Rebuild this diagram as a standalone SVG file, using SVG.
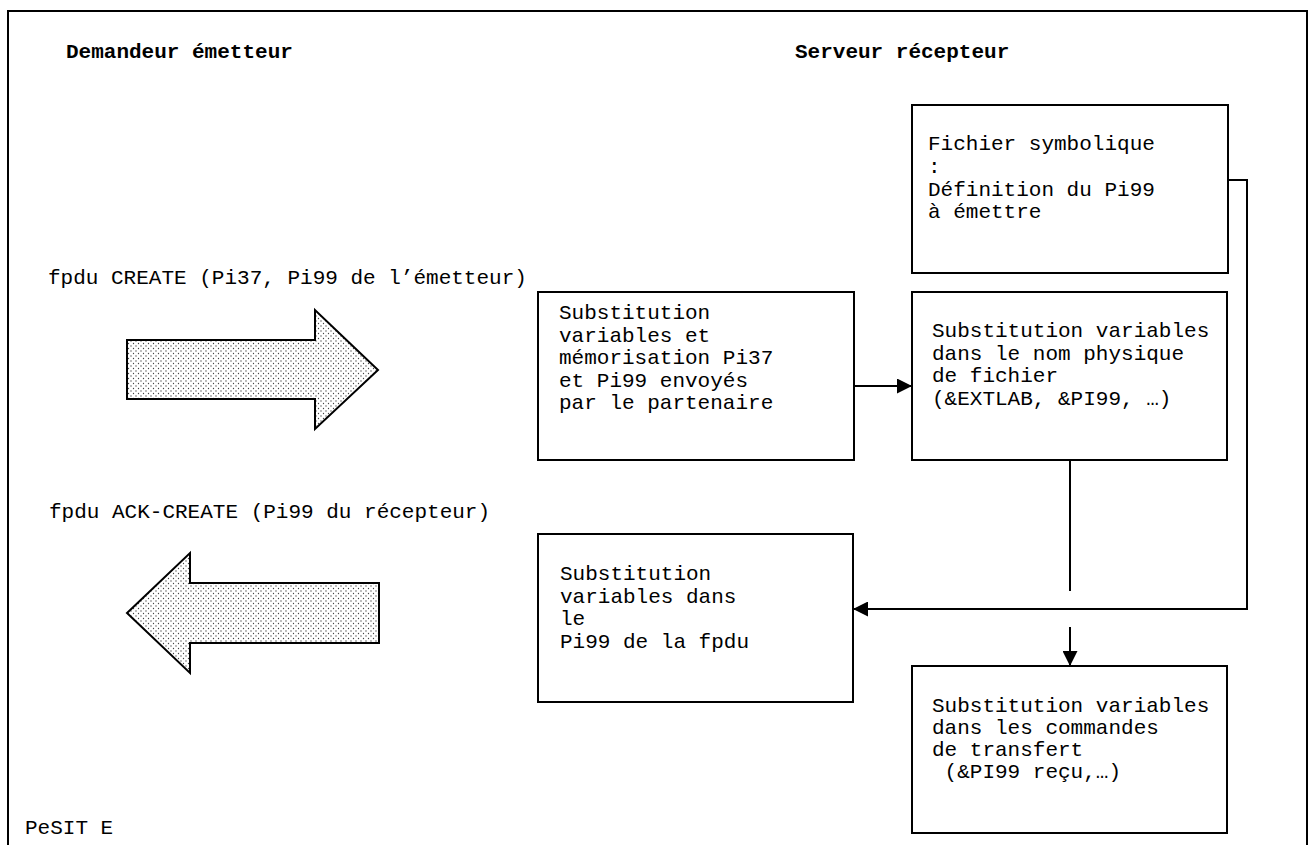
<svg xmlns="http://www.w3.org/2000/svg" width="1315" height="845" viewBox="0 0 1315 845">
<style>
.t{font-family:"Liberation Mono","Courier New",monospace;font-size:21px;fill:#000}
.b{font-weight:bold}
.box{fill:#fff;stroke:#000;stroke-width:2}
.ln{fill:none;stroke:#000;stroke-width:2}
.big{fill:url(#dots);stroke:#000;stroke-width:2;stroke-linejoin:miter}
</style>
<defs>
<pattern id="dots" width="5" height="5" patternUnits="userSpaceOnUse">
<rect width="5" height="5" fill="#fff"/>
<circle cx="1" cy="1" r="0.65" fill="#444"/>
<circle cx="3.5" cy="3.5" r="0.65" fill="#444"/>
</pattern>
<marker id="ah" markerUnits="userSpaceOnUse" markerWidth="15" markerHeight="15" refX="15" refY="7.5" orient="auto">
<path d="M0,0 L15,7.5 L0,15 z" fill="#000"/>
</marker>
</defs>
<rect width="1315" height="845" fill="#fff"/>
<path class="ln" d="M8,845 V11 H1307 V845"/>
<g id="titles">
<text class="t b" x="66" y="58">Demandeur émetteur</text>
<text class="t b" x="795" y="58">Serveur récepteur</text>
</g>
<g id="label-create">
<text class="t" x="48" y="284" xml:space="preserve">fpdu CREATE (Pi37, Pi99 de l’émetteur)</text>
</g>
<g id="arrow-create">
<path class="big" d="M127,340 H315 V310 L378,370 L315,429 V399 H127 Z"/>
</g>
<g id="label-ack">
<text class="t" x="49" y="518">fpdu ACK-CREATE (Pi99 du récepteur)</text>
</g>
<g id="arrow-ack">
<path class="big" d="M379,583 H190 V553 L127,613 L190,673 V643 H379 Z"/>
</g>
<g id="pesit">
<text class="t" x="25" y="834">PeSIT E</text>
</g>
<g id="fichier">
<rect class="box" x="912" y="105" width="316" height="168"/>
<text class="t" x="928" y="150">Fichier symbolique</text>
<text class="t" x="928" y="173">:</text>
<text class="t" x="928" y="196">Définition du Pi99</text>
<text class="t" x="928" y="218">à émettre</text>
</g>
<g id="memorisation">
<rect class="box" x="538" y="292" width="316" height="168"/>
<text class="t" x="559" y="319">Substitution</text>
<text class="t" x="559" y="342">variables et</text>
<text class="t" x="559" y="364">mémorisation Pi37</text>
<text class="t" x="559" y="387">et Pi99 envoyés</text>
<text class="t" x="559" y="409">par le partenaire</text>
</g>
<g id="nom-physique">
<rect class="box" x="912" y="292" width="315" height="168"/>
<text class="t" x="932" y="337">Substitution variables</text>
<text class="t" x="932" y="360">dans le nom physique</text>
<text class="t" x="932" y="382">de fichier</text>
<text class="t" x="932" y="405">(&amp;EXTLAB, &amp;PI99, …)</text>
</g>
<g id="pi99-fpdu">
<rect class="box" x="538" y="534" width="315" height="168"/>
<text class="t" x="560" y="580">Substitution</text>
<text class="t" x="560" y="603">variables dans</text>
<text class="t" x="560" y="625">le</text>
<text class="t" x="560" y="648">Pi99 de la fpdu</text>
</g>
<g id="commandes">
<rect class="box" x="912" y="666" width="315" height="167"/>
<text class="t" x="932" y="712">Substitution variables</text>
<text class="t" x="932" y="734">dans les commandes</text>
<text class="t" x="932" y="756">de transfert</text>
<text class="t" x="932" y="778" xml:space="preserve"> (&amp;PI99 reçu,…)</text>
</g>
<g id="connectors">
<path class="ln" d="M854,386 H912" marker-end="url(#ah)"/>
<path class="ln" d="M1228,180 H1247 V609 H853" marker-end="url(#ah)"/>
<path class="ln" d="M1070,460 V591"/>
<path class="ln" d="M1070,627 V666" marker-end="url(#ah)"/>
</g>
</svg>
